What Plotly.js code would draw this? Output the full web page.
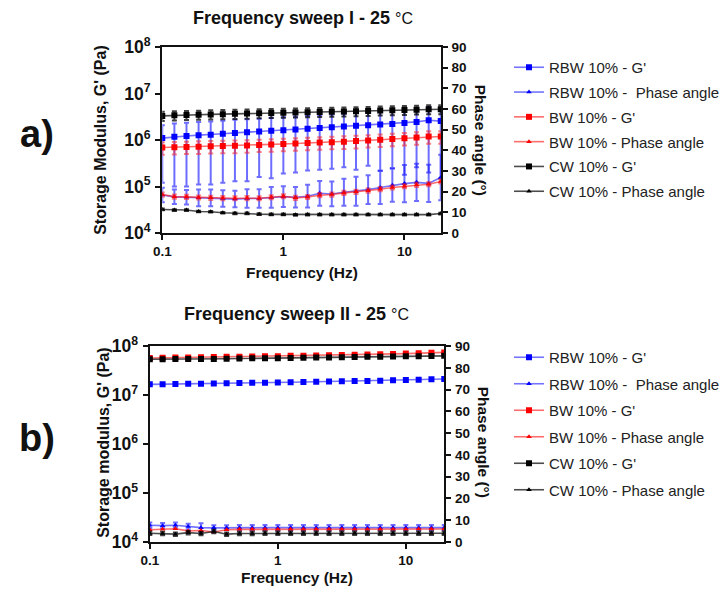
<!DOCTYPE html>
<html>
<head>
<meta charset="utf-8">
<script src="https://cdn.plot.ly/plotly-3.0.1.min.js"></script>
<style>html,body{margin:0;padding:0;background:#fff;}#chart{width:725px;height:597px;}</style>
</head>
<body>
<div id="chart"></div>
<script>
// Frequencies (Hz)
const freq = [0.1, 0.1259, 0.1585, 0.1995, 0.2512, 0.3162, 0.3981, 0.5012, 0.631, 0.7943,
  1, 1.259, 1.585, 1.995, 2.512, 3.162, 3.981, 5.012, 6.31, 7.943, 10, 12.59, 15.85, 19.95];

const seriesNames = ["RBW 10% - G'", "RBW 10% -\u00A0 Phase angle", "BW 10% - G'", "BW 10% - Phase angle", "CW 10% - G'", "CW 10% - Phase angle"];

// ---- Frequency sweep I ----
const rbwG1 = [1.10e6,1.18e6,1.22e6,1.27e6,1.30e6,1.36e6,1.42e6,1.47e6,1.52e6,1.58e6,1.63e6,1.69e6,1.75e6,1.82e6,1.88e6,1.95e6,2.02e6,2.08e6,2.15e6,2.22e6,2.32e6,2.45e6,2.65e6,2.55e6];
const rbwG1err = [0.98e6,1.08e6,1.12e6,1.16e6,1.19e6,1.24e6,1.29e6,1.34e6,1.36e6,1.43e6,1.44e6,1.49e6,1.53e6,1.59e6,1.64e6,1.69e6,1.79e6,1.80e6,1.93e6,1.97e6,2.14e6,2.19e6,2.45e6,2.40e6];
const rbwP1 = [18.4,17.5,17.3,17.0,17.0,16.7,16.4,16.7,16.7,17.2,17.6,17.3,17.8,19.2,18.9,19.7,20.2,21.0,22.0,23.1,23.9,24.5,24.0,26.9];
const rbwP1err = [3.5,3.5,3.5,4,4,4,4,4.5,4.5,5,5,5,5.5,6,6,6.5,7,7,8,8,9,9,9,11];
const bwG1 = [0.69e6,0.70e6,0.71e6,0.72e6,0.73e6,0.74e6,0.75e6,0.76e6,0.78e6,0.80e6,0.82e6,0.84e6,0.86e6,0.88e6,0.90e6,0.92e6,0.95e6,0.98e6,1.01e6,1.05e6,1.09e6,1.13e6,1.19e6,1.19e6];
const bwG1err = [0.21e6,0.21e6,0.21e6,0.22e6,0.22e6,0.22e6,0.23e6,0.23e6,0.23e6,0.24e6,0.25e6,0.25e6,0.26e6,0.26e6,0.27e6,0.28e6,0.29e6,0.29e6,0.30e6,0.32e6,0.33e6,0.34e6,0.36e6,0.36e6];
const bwP1 = [18.6,17.6,17.5,17.2,17.0,16.9,16.8,16.9,16.8,17.3,17.8,17.0,17.4,18.3,18.6,19.4,19.9,20.5,21.2,22.0,22.6,23.3,23.6,24.9];
const bwP1err = [1,1,1,1,1,1,1,1,1,1,1,1,1,1,1,1,1,1,1,1,1,1,1,1];
const cwG1 = [3.3e6,3.4e6,3.45e6,3.5e6,3.55e6,3.6e6,3.65e6,3.7e6,3.75e6,3.8e6,3.85e6,3.9e6,3.95e6,4.0e6,4.05e6,4.1e6,4.15e6,4.2e6,4.3e6,4.35e6,4.4e6,4.5e6,4.6e6,4.6e6];
const cwG1err = [0.75e6,0.76e6,0.77e6,0.78e6,0.79e6,0.8e6,0.81e6,0.82e6,0.83e6,0.84e6,0.85e6,0.86e6,0.87e6,0.88e6,0.89e6,0.9e6,0.91e6,0.92e6,0.94e6,0.95e6,0.96e6,0.98e6,1.0e6,1.0e6];
const cwP1 = [11.4,11.1,11.1,10.4,10.3,9.8,9.5,9.5,9.1,9.0,9.0,8.8,8.9,8.9,8.9,8.9,8.9,8.9,8.9,8.9,8.9,8.9,8.9,9.4];
const cwP1err = [0.4,0.4,0.4,0.4,0.4,0.4,0.4,0.4,0.4,0.4,0.4,0.4,0.4,0.4,0.4,0.4,0.4,0.4,0.4,0.4,0.4,0.4,0.4,0.4];

// ---- Frequency sweep II ----
const rbwG2 = [1.65e7,1.66e7,1.67e7,1.69e7,1.70e7,1.72e7,1.73e7,1.75e7,1.77e7,1.78e7,1.80e7,1.82e7,1.84e7,1.86e7,1.88e7,1.90e7,1.92e7,1.94e7,1.96e7,1.99e7,2.02e7,2.05e7,2.09e7,2.12e7];
const rbwP2 = [7.7,7.5,7.7,7.1,6.6,6.5,6.6,6.6,6.6,6.6,6.6,6.6,6.6,6.6,6.6,6.6,6.6,6.6,6.6,6.6,6.6,6.6,6.6,6.6];
const rbwP2err = [1.3,1.2,1.2,1.3,2.0,1.2,1.1,1.2,1.2,1.2,1.2,1.2,1.2,1.2,1.2,1.2,1.2,1.2,1.2,1.2,1.2,1.2,1.2,1.2];
const bwG2 = [5.7e7,5.75e7,5.8e7,5.85e7,5.9e7,5.95e7,6.0e7,6.05e7,6.1e7,6.15e7,6.2e7,6.3e7,6.35e7,6.4e7,6.5e7,6.55e7,6.6e7,6.7e7,6.8e7,6.9e7,7.0e7,7.1e7,7.25e7,7.4e7];
const bwP2 = [5.6,5.8,6.1,5.1,5.3,4.6,5.6,5.8,5.8,5.8,5.8,5.8,5.8,5.9,5.9,5.9,5.9,5.9,5.9,5.9,5.9,6.0,6.0,6.0];
const cwG2 = [5.35e7,5.35e7,5.4e7,5.4e7,5.45e7,5.45e7,5.5e7,5.55e7,5.6e7,5.6e7,5.65e7,5.7e7,5.75e7,5.8e7,5.85e7,5.9e7,5.95e7,6.0e7,6.05e7,6.1e7,6.15e7,6.2e7,6.25e7,6.3e7];
const cwP2 = [4.0,3.9,3.6,4.3,3.9,4.8,3.6,3.9,3.9,4.0,4.0,4.0,4.0,4.0,4.0,4.0,4.0,4.0,4.0,4.0,4.0,4.0,4.0,4.0];
const cwP2err = [0.8,0.8,0.8,0.8,0.8,0.8,0.8,0.8,0.8,0.8,0.8,0.8,0.8,0.8,0.8,0.8,0.8,0.8,0.8,0.8,0.8,0.8,0.8,0.8];

const xTicks = [0.1, 1, 10];
const xTickText = ['0.1', '1', '10'];

const FONT = 'Liberation Sans, Arial, sans-serif';
const W = 725, H = 597;
const px = v => v / W;
const py = v => 1 - v / H;

function tr(name, y, err, xa, ya, col, lineCol, errCol, sym, size, leg, grp) {
  const t = {
    type: 'scatter', mode: 'lines+markers', name: name, x: freq, y: y,
    xaxis: xa, yaxis: ya, legend: leg, legendgroup: grp,
    line: {color: lineCol, width: 1.6},
    marker: {color: col, symbol: sym, size: size}
  };
  if (err) t.error_y = {type: 'data', array: err, visible: true, color: errCol, thickness: 2, width: 2.5};
  return t;
}

const blue = '#0000ff', blueL = 'rgba(40,40,255,0.65)', blueE = 'rgba(20,20,255,0.62)';
const red = '#ff0000', redL = 'rgba(255,30,30,0.65)', redE = 'rgba(255,30,30,0.55)';
const blk = '#000000', blkL = 'rgba(0,0,0,0.7)', blkE = 'rgba(0,0,0,0.75)';

const data = [
  tr(seriesNames[0], rbwG1, rbwG1err, 'x', 'y', blue, blueL, blueE, 'square', 6, 'legend', 'a1'),
  tr(seriesNames[1], rbwP1, rbwP1err, 'x', 'y2', blue, blueL, blueE, 'triangle-up', 5, 'legend', 'a2'),
  tr(seriesNames[2], bwG1, bwG1err, 'x', 'y', red, redL, redE, 'square', 6, 'legend', 'a3'),
  tr(seriesNames[3], bwP1, bwP1err, 'x', 'y2', red, redL, redE, 'triangle-up', 5, 'legend', 'a4'),
  tr(seriesNames[4], cwG1, cwG1err, 'x', 'y', blk, blkL, blkE, 'square', 6, 'legend', 'a5'),
  tr(seriesNames[5], cwP1, cwP1err, 'x', 'y2', blk, blkL, blkE, 'triangle-up', 5, 'legend', 'a6'),
  tr(seriesNames[0], rbwG2, null, 'x2', 'y3', blue, blueL, blueE, 'square', 6, 'legend2', 'b1'),
  tr(seriesNames[1], rbwP2, rbwP2err, 'x2', 'y4', blue, blueL, blueE, 'triangle-up', 5, 'legend2', 'b2'),
  tr(seriesNames[2], bwG2, null, 'x2', 'y3', red, redL, redE, 'square', 6, 'legend2', 'b3'),
  tr(seriesNames[3], bwP2, null, 'x2', 'y4', red, redL, redE, 'triangle-up', 5, 'legend2', 'b4'),
  tr(seriesNames[4], cwG2, null, 'x2', 'y3', blk, blkL, blkE, 'square', 6, 'legend2', 'b5'),
  tr(seriesNames[5], cwP2, cwP2err, 'x2', 'y4', blk, blkL, blkE, 'triangle-up', 5, 'legend2', 'b6')
];

const tickFont = {family: FONT, size: 13.5, color: '#111', weight: 'bold'};
const axBase = {showline: true, linewidth: 2, linecolor: '#111', ticks: 'outside', ticklen: 5, tickwidth: 2,
  tickcolor: '#111', showgrid: false, zeroline: false, tickfont: tickFont};

function xAx(domain, anchor) {
  return Object.assign({}, axBase, {type: 'log', range: [-1, Math.log10(20)], domain: domain, anchor: anchor,
    tickmode: 'array', tickvals: xTicks, ticktext: xTickText, mirror: true});
}
function yLog(domain, anchor) {
  return Object.assign({}, axBase, {type: 'log', range: [4, 8], domain: domain, anchor: anchor,
    dtick: 1, exponentformat: 'power', ticklabelstandoff: 2, tickfont: Object.assign({}, tickFont, {size: 14})});
}
function yPh(over, anchor) {
  return Object.assign({}, axBase, {range: [0, 90], overlaying: over, side: 'right', anchor: anchor, dtick: 10, tick0: 0,
    ticklabelstandoff: 1});
}

const legBase = {font: {family: FONT, size: 15, color: '#222'}, traceorder: 'grouped', bgcolor: 'rgba(0,0,0,0)',
  xanchor: 'left', yanchor: 'top'};

const ann = (text, x, y, size, opts) => Object.assign({text: text, x: px(x), y: py(y), xref: 'paper', yref: 'paper',
  showarrow: false, xanchor: 'center', yanchor: 'middle', font: {family: FONT, size: size, color: '#111', weight: 'bold'}}, opts || {});

const layout = {
  width: W, height: H, margin: {l: 0, r: 0, t: 0, b: 0},
  paper_bgcolor: '#fff', plot_bgcolor: '#fff', font: {family: FONT, color: '#111'},
  xaxis: xAx([px(162.5), px(441.5)], 'y'),
  yaxis: yLog([py(233), py(47)], 'x'),
  yaxis2: yPh('y', 'x'),
  xaxis2: xAx([px(150), px(445)], 'y3'),
  yaxis3: yLog([py(542), py(346)], 'x2'),
  yaxis4: yPh('y3', 'x2'),
  legend: Object.assign({}, legBase, {x: px(510), y: py(51), tracegroupgap: 2.3}),
  legend2: Object.assign({}, legBase, {x: px(510), y: py(341), tracegroupgap: 4.0}),
  annotations: [
    ann('Frequency sweep I - 25 <span style="font-weight:normal;font-size:16px">°C</span>', 303, 18, 18),
    ann('Frequency sweep II - 25 <span style="font-weight:normal;font-size:16px">°C</span>', 297, 314, 18),
    ann("Storage Modulus, G' (Pa)", 100, 140, 16, {textangle: -90}),
    ann("Storage modulus, G' (Pa)", 103, 442, 16, {textangle: -90}),
    ann('Phase angle (°)', 482, 140, 15.5, {textangle: 90}),
    ann('Phase angle (°)', 485, 442, 15.5, {textangle: 90}),
    ann('Frequency (Hz)', 302, 272, 15.5),
    ann('Frequency (Hz)', 297, 577, 15.5),
    ann('a)', 37, 134, 38),
    ann('b)', 37, 438, 38)
  ]
};

Plotly.newPlot('chart', data, layout, {staticPlot: true, displayModeBar: false});
</script>
</body>
</html>
